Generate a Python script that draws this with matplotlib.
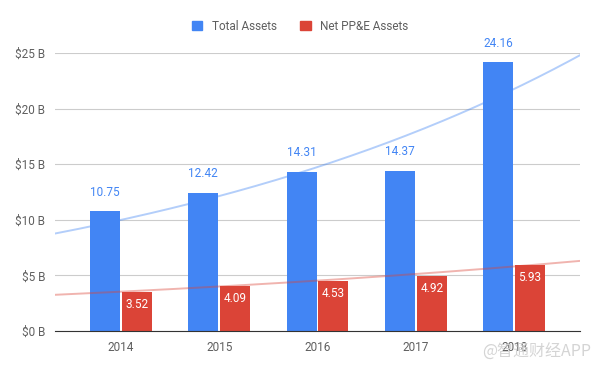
import numpy as np
import matplotlib.pyplot as plt
from matplotlib.patches import Patch

years = ['2014', '2015', '2016', '2017', '2018']
total_assets = [10.75, 12.42, 14.31, 14.37, 24.16]
net_ppe = [3.52, 4.09, 4.53, 4.92, 5.93]
y_ticks = [0, 5, 10, 15, 20, 25]

BLUE = '#4285F4'
RED = '#DB4437'
GRAY = '#5f5f5f'

plt.rcParams['font.family'] = ['Roboto', 'DejaVu Sans']


def exp_trend(x, y, xs):
    """exponential trendline, log fit lightly weighted toward big values"""
    b, a = np.polyfit(x, np.log(y), 1, w=np.sqrt(y))
    return np.exp(a + b * xs)


fig = plt.figure(figsize=(6, 3.71), dpi=100)
ax = fig.add_axes([55 / 600, 40 / 371, 525 / 600, 278 / 371])

x = np.arange(len(years))
w = 0.305
gap = 0.01
ax.bar(x - w / 2 - gap, total_assets, w, color=BLUE, zorder=3)
ax.bar(x + w / 2 + gap, net_ppe, w, color=RED, zorder=3)

xlim = (-0.67, len(years) - 1 + 0.67)
xs = np.linspace(*xlim, 200)
ax.plot(xs, exp_trend(x, total_assets, xs), color=BLUE, alpha=0.4, lw=1.4, zorder=4)
ax.plot(xs, exp_trend(x, net_ppe, xs), color=RED, alpha=0.4, lw=1.4, zorder=4)

for xi, v in zip(x, total_assets):
    ax.text(xi - w / 2 - gap, v + 1.15, f'{v:.2f}', ha='center', va='bottom',
            color=BLUE, fontsize=8.5, zorder=5)
for xi, v in zip(x, net_ppe):
    ax.text(xi + w / 2 + gap, v - 0.55, f'{v:.2f}', ha='center', va='top',
            color='white', fontsize=8.5, zorder=5)

ax.set_xlim(*xlim)
ax.set_ylim(0, 25)
ax.set_yticks(y_ticks)
ax.set_yticklabels([f'${t} B' for t in y_ticks])
ax.set_xticks(x)
ax.set_xticklabels(years)
ax.tick_params(length=0, labelsize=8.5, colors=GRAY, pad=7)
ax.grid(axis='y', color='#cccccc', lw=0.8, zorder=0)
for s in ['top', 'right', 'left']:
    ax.spines[s].set_visible(False)
ax.spines['bottom'].set_color('#333333')
ax.spines['bottom'].set_zorder(6)

handles = [Patch(color=BLUE, label='Total Assets'),
           Patch(color=RED, label='Net PP&E Assets')]
fig.legend(handles=handles, loc='center', bbox_to_anchor=(0.5, 1 - 26 / 371),
           ncol=2, frameon=False, fontsize=8.5, handlelength=0.9, handleheight=0.9,
           handletextpad=0.8, columnspacing=2.0, labelcolor=GRAY)

fig.text(0.985, 1 - 352 / 371, '@智通财经APP', ha='right', va='center',
         fontsize=11.5, color='#d0d0d0', alpha=0.9,
         family=['Noto Sans CJK SC', 'DejaVu Sans'])

fig.savefig('out.png', dpi=100)
